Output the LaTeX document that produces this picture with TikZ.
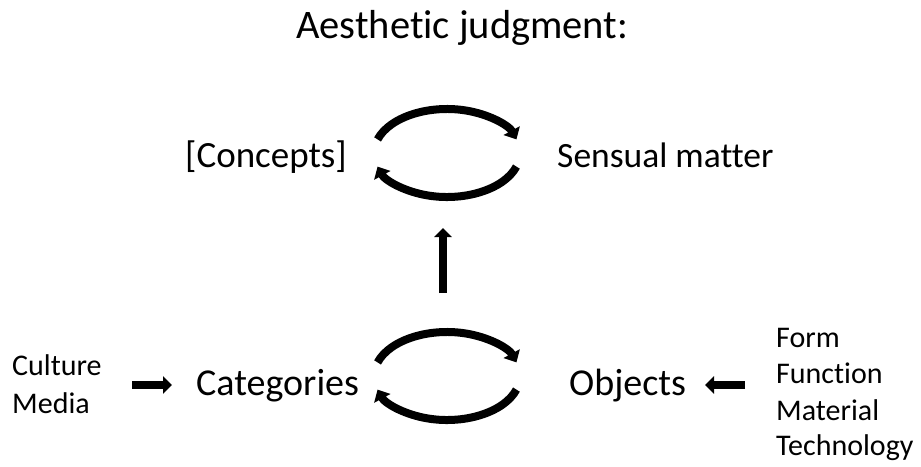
\documentclass[tikz,border=0pt]{standalone}
\usepackage{fontspec}
\setmainfont[Ligatures=NoCommon]{Carlito}
\usetikzlibrary{arrows.meta,calc}
\begin{document}
\begin{tikzpicture}[x=1pt,y=-1pt,
  big/.style={font=\fontsize{37}{44}\selectfont, inner sep=0pt, anchor=base west},
  mid/.style={font=\fontsize{38}{44}\selectfont, inner sep=0pt, anchor=base west},
  small/.style={font=\fontsize{30}{36}\selectfont, inner sep=0pt, anchor=base west},
  thick arrow/.style={line width=7.5pt, -{Triangle[width=17pt,length=9pt]}},
  cyc/.style={line width=8pt, -{Triangle[width=18pt,length=10pt]}}]
\useasboundingbox (0,0) rectangle (921,466);
\node[font=\fontsize{40.5}{46}\selectfont, inner sep=0pt, anchor=base west] (title) at (296,38) {Aesthetic judgment:};
\node[big] (concepts) at (185,167) {[Concepts]};
\node[font=\fontsize{35.5}{42}\selectfont, inner sep=0pt, anchor=base west] (sensual) at (557,167) {Sensual matter};
\node[mid] (categories) at (196,395) {Categories};
\node[mid] (objects) at (569,395) {Objects};
\node[small] (culture) at (12,375) {Culture};
\node[small] (media) at (12,413) {Media};
\node[small] (form) at (776,347) {Form};
\node[small] (function) at (776,383) {Function};
\node[small] (material) at (776,420) {Material};
\node[small] (technology) at (776,455) {Technology};
% cycle centres
\coordinate (uc) at (447,153);
\coordinate (lc) at (447,376);
\foreach \c in {uc,lc}{
  \draw[cyc] ($(\c)+(162:73pt and 44pt)$) arc[start angle=162, end angle=18, x radius=73pt, y radius=44pt];
  \draw[cyc] ($(\c)+(-18:73pt and 44pt)$) arc[start angle=-18, end angle=-162, x radius=73pt, y radius=44pt];
}
% connectors
\coordinate (vtop) at (443,228);
\coordinate (vbot) at (443,293);
\draw[thick arrow] (vbot) -- (vtop);
\coordinate (la) at (132,385);
\coordinate (lb) at (172,385);
\draw[thick arrow] (la) -- (lb);
\coordinate (ra) at (745,385);
\coordinate (rb) at (705,385);
\draw[thick arrow] (ra) -- (rb);
\end{tikzpicture}
\end{document}
